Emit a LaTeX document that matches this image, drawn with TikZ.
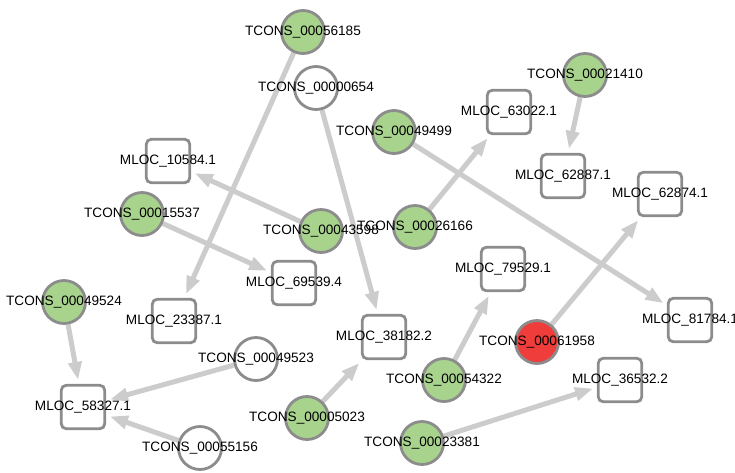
\documentclass[tikz,border=0pt]{standalone}
\usepackage{fontspec}
\setmainfont{Liberation Sans}
\usetikzlibrary{arrows.meta,backgrounds}
\definecolor{ngreen}{HTML}{A8D38D}
\definecolor{nred}{HTML}{EE3D3A}
\definecolor{nborder}{HTML}{8C8C8C}
\definecolor{egray}{HTML}{CCCCCC}
\begin{document}
\begin{tikzpicture}[x=1pt,y=-1pt,
  tc/.style={circle, draw=nborder, line width=2.8pt, minimum size=43pt, inner sep=0pt},
  ml/.style={rectangle, rounded corners=5pt, draw=nborder, line width=2.8pt, fill=white, minimum size=43.5pt, inner sep=0pt},
  green/.style={tc, fill=ngreen},
  wht/.style={tc, fill=white},
  redn/.style={tc, fill=nred},
  lbl/.style={inner sep=0pt, font=\fontsize{13.6}{15}\selectfont, text=black},
  edge/.style={draw=egray, line width=5pt, -{Triangle[length=18pt,width=13pt]}, shorten >=4pt}]
\useasboundingbox (0,0) rectangle (735,472);
% TCONS nodes
\node[green] (n56185) at (303,32) {};
\node[wht]   (n00654) at (316,88) {};
\node[green] (n49499) at (394,132) {};
\node[green] (n21410) at (585,75) {};
\node[green] (n15537) at (142,214) {};
\node[green] (n43598) at (321,231) {};
\node[green] (n26166) at (415,227) {};
\node[green] (n49524) at (64,302) {};
\node[wht]   (n49523) at (256,359) {};
\node[redn]  (n61958) at (537,342) {};
\node[green] (n54322) at (444,380) {};
\node[green] (n05023) at (307,418) {};
\node[wht]   (n55156) at (200,448) {};
\node[green] (n23381) at (422,443) {};
% MLOC nodes
\node[ml] (m63022) at (509,112) {};
\node[ml] (m10584) at (168,161) {};
\node[ml] (m62887) at (563,176) {};
\node[ml] (m62874) at (660,194) {};
\node[ml] (m69539) at (294,283) {};
\node[ml] (m79529) at (503,269) {};
\node[ml] (m23387) at (174,321) {};
\node[ml] (m38182) at (384,337) {};
\node[ml] (m81784) at (690,320) {};
\node[ml] (m36532) at (620,380) {};
\node[ml] (m58327) at (83,407) {};
% labels
\node[lbl] (l56185) at (n56185) {TCONS\_00056185};
\node[lbl] (l00654) at (n00654) {TCONS\_00000654};
\node[lbl] (l49499) at (n49499) {TCONS\_00049499};
\node[lbl] (l21410) at (n21410) {TCONS\_00021410};
\node[lbl] (l15537) at (n15537) {TCONS\_00015537};
\node[lbl] (l43598) at (n43598) {TCONS\_00043598};
\node[lbl] (l26166) at (n26166) {TCONS\_00026166};
\node[lbl] (l49524) at (n49524) {TCONS\_00049524};
\node[lbl] (l49523) at (n49523) {TCONS\_00049523};
\node[lbl] (l61958) at (n61958) {TCONS\_00061958};
\node[lbl] (l54322) at (n54322) {TCONS\_00054322};
\node[lbl] (l05023) at (n05023) {TCONS\_00005023};
\node[lbl] (l55156) at (n55156) {TCONS\_00055156};
\node[lbl] (l23381) at (n23381) {TCONS\_00023381};
\node[lbl] (k63022) at (m63022) {MLOC\_63022.1};
\node[lbl] (k10584) at (m10584) {MLOC\_10584.1};
\node[lbl] (k62887) at (m62887) {MLOC\_62887.1};
\node[lbl] (k62874) at (m62874) {MLOC\_62874.1};
\node[lbl] (k69539) at (m69539) {MLOC\_69539.4};
\node[lbl] (k79529) at (m79529) {MLOC\_79529.1};
\node[lbl] (k23387) at (m23387) {MLOC\_23387.1};
\node[lbl] (k38182) at (m38182) {MLOC\_38182.2};
\node[lbl] (k81784) at (m81784) {MLOC\_81784.1};
\node[lbl] (k36532) at (m36532) {MLOC\_36532.2};
\node[lbl] (k58327) at (m58327) {MLOC\_58327.1};
% edges
\begin{scope}[on background layer]
\draw[edge] (n56185) -- (m23387);
\draw[edge] (n00654) -- (m38182);
\draw[edge] (n43598) -- (m10584);
\draw[edge] (n15537) -- (m69539);
\draw[edge] (n49499) -- (m81784);
\draw[edge] (n26166) -- (m63022);
\draw[edge] (n21410) -- (m62887);
\draw[edge] (n61958) -- (m62874);
\draw[edge] (n54322) -- (m79529);
\draw[edge] (n05023) -- (m38182);
\draw[edge] (n23381) -- (m36532);
\draw[edge] (n49524) -- (m58327);
\draw[edge] (n49523) -- (m58327);
\draw[edge] (n55156) -- (m58327);
\end{scope}
\end{tikzpicture}
\end{document}
